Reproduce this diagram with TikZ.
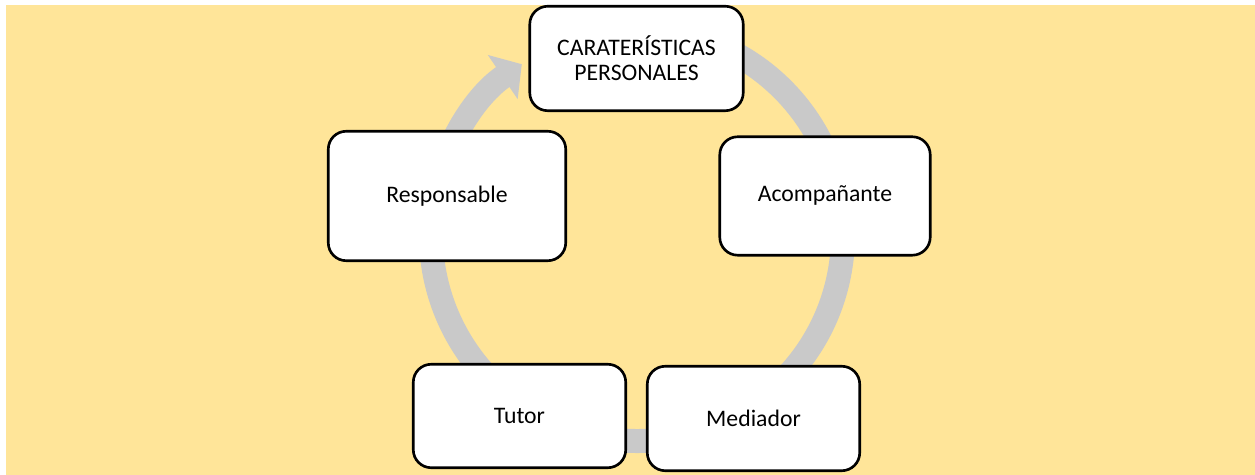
\documentclass[tikz,border=0pt]{standalone}
\usepackage{fontspec}
\setmainfont{Carlito}
\usepackage{xcolor}
\usepackage{tikz}
\usetikzlibrary{arrows.meta}
\definecolor{bgyellow}{HTML}{FFE599}
\definecolor{ringgray}{HTML}{C9C9C9}
\tikzset{rolebox/.style ={draw, fill=white, line width=1.5pt, rounded corners=0.36cm, inner sep=0pt, align=center, font=\fontsize{13.5}{14.2}\selectfont}}
\tikzset{cyclering/.style ={draw=ringgray, line width=0.48cm, -{Triangle[width=1.04cm, length=0.46cm]}}}

\begin{document}
\begin{tikzpicture}[x=0.02cm, y=0.02cm]
{
\useasboundingbox (0,0) rectangle (1255,475);
\fill[bgyellow] (6,0) rectangle (1255,470);
% ring behind the boxes
\draw[cyclering] (637,240) ++(80:206) arc[start angle=80, end angle=-236, radius=206];
\node[rolebox, minimum width=4.27cm, minimum height=2.09cm] (car) at (636.5,416.5) {CARATERÍSTICAS\\PERSONALES};
\node[rolebox, minimum width=4.21cm, minimum height=2.37cm] (acomp) at (825,279) {Acompañante};
\node[rolebox, minimum width=4.75cm, minimum height=2.59cm] (resp) at (447,279) {Responsable};
\node[rolebox, minimum width=4.25cm, minimum height=2.07cm] (tut) at (519.5,59) {Tutor};
\node[rolebox, minimum width=4.25cm, minimum height=2.09cm] (med) at (753.5,56.5) {Mediador};
}
\end{tikzpicture}
\end{document}
